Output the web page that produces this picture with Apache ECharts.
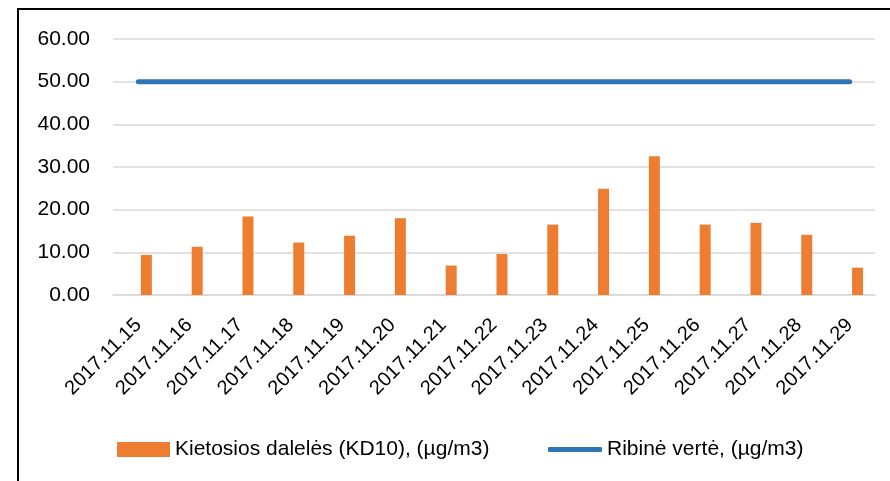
<!DOCTYPE html>
<html>
<head>
<meta charset="utf-8">
<script src="https://cdn.jsdelivr.net/npm/echarts@6/dist/echarts.min.js"></script>
<style>
    html, body { margin: 0; padding: 0; background: #fff; }
    #chart { width: 890px; height: 481px; }
</style>
</head>
<body>
<div id="chart"></div>
<script>
var dates = ['2017.11.15', '2017.11.16', '2017.11.17', '2017.11.18', '2017.11.19',
    '2017.11.20', '2017.11.21', '2017.11.22', '2017.11.23', '2017.11.24',
    '2017.11.25', '2017.11.26', '2017.11.27', '2017.11.28', '2017.11.29'];
var kd10 = [9.4, 11.3, 18.4, 12.3, 13.9, 18.0, 6.9, 9.6, 16.5, 24.9, 32.5, 16.5, 16.9, 14.1, 6.4];
var limit = [50, 50, 50, 50, 50, 50, 50, 50, 50, 50, 50, 50, 50, 50, 50];
var emptySlot = [null, null, null, null, null, null, null, null, null, null, null, null, null, null, null];

var barName = 'Kietosios dalelės (KD10), (µg/m3)';
var lineName = 'Ribinė vertė, (µg/m3)';
var font = "'Liberation Sans', Arial, sans-serif";

initChart();

function initChart() {
    var myChart = echarts.init(document.getElementById('chart'));
    // 外框 + 图表配置
    var option = {
        animation: false,
        textStyle: { fontFamily: font },
        graphic: [{
            type: 'rect',
            shape: { x: 18, y: 9, width: 900, height: 500 },
            style: { fill: 'none', stroke: '#000', lineWidth: 2 },
            silent: true
        }],
        grid: { left: 113, right: 15, top: 39, bottom: 186 },
        legend: [{
            left: 112,
            top: 434,
            itemWidth: 53,
            itemHeight: 15,
            icon: 'rect',
            textStyle: { fontFamily: font, fontSize: 21, color: '#000' },
            data: [barName]
        }, {
            left: 543,
            top: 434,
            itemWidth: 54,
            itemHeight: 5,
            icon: 'roundRect',
            textStyle: { fontFamily: font, fontSize: 21, color: '#000' },
            data: [lineName]
        }],
        xAxis: {
            type: 'category',
            data: dates,
            axisLine: { lineStyle: { color: '#d9d9d9', width: 1.5 } },
            axisTick: { show: false },
            axisLabel: {
                rotate: 45,
                margin: 27,
                interval: 0,
                fontSize: 20,
                color: '#000',
                fontFamily: font
            }
        },
        yAxis: {
            type: 'value',
            min: 0,
            max: 60,
            interval: 10,
            axisLine: { show: false },
            axisTick: { show: false },
            splitLine: { lineStyle: { color: '#d9d9d9', width: 1.5 } },
            axisLabel: {
                margin: 23,
                fontSize: 21,
                color: '#000',
                fontFamily: font,
                formatter: function(v) { return v.toFixed(2); }
            }
        },
        series: [{
            name: 'empty',
            type: 'bar',
            data: emptySlot,
            barWidth: 11,
            barGap: '45%'
        }, {
            name: barName,
            type: 'bar',
            data: kd10,
            barWidth: 11,
            barGap: '45%',
            itemStyle: { color: '#ed7d31' }
        }, {
            name: lineName,
            type: 'line',
            data: limit,
            symbol: 'none',
            lineStyle: { color: '#2e75b6', width: 5, cap: 'round' },
            itemStyle: { color: '#2e75b6' }
        }]
    };
    myChart.setOption(option);
}
</script>
</body>
</html>
